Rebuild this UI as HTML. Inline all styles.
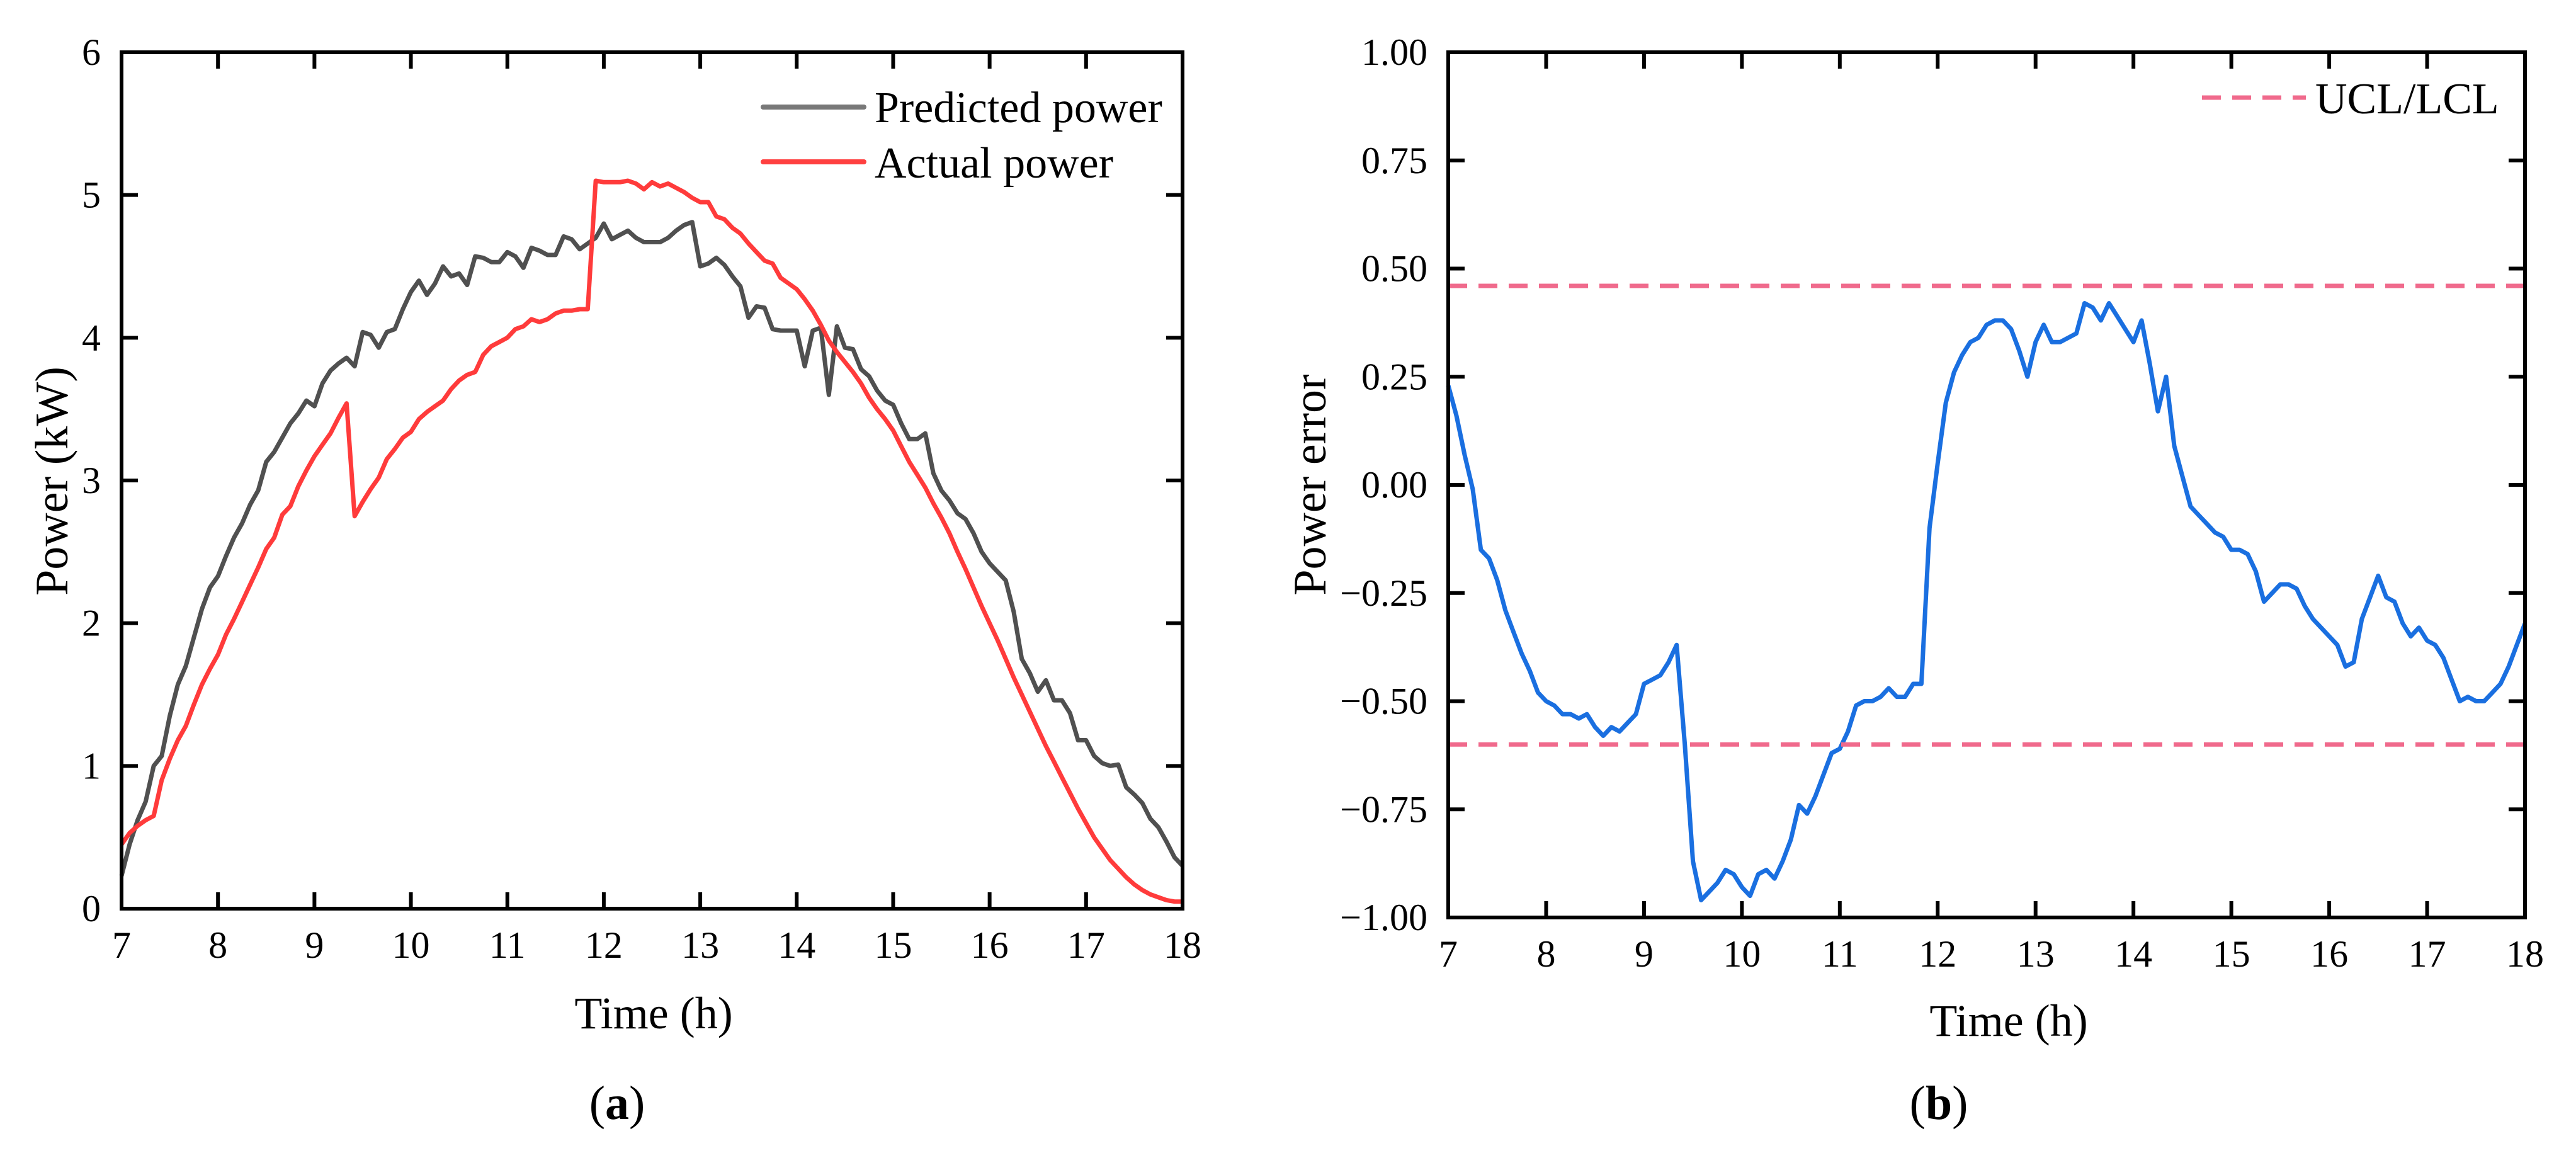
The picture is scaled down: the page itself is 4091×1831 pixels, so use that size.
<!DOCTYPE html>
<html><head><meta charset="utf-8"><style>
html,body{margin:0;padding:0;background:#fff;}
svg{display:block;font-family:"Liberation Serif",serif;}
</style></head><body>
<svg id="fig" width="4091" height="1831" viewBox="0 0 4091 1831" xmlns="http://www.w3.org/2000/svg"></svg>
<script>
// Time grid: 5-minute steps from 7 h to 18 h
const startHour = 7;
const stepHour = 1/12;
const xTicks = [7,8,9,10,11,12,13,14,15,16,17,18];
const yTicksA = [0,1,2,3,4,5,6];
const yTicksB = [-1,-0.75,-0.5,-0.25,0,0.25,0.5,0.75,1];
const yTickLabelsB = ["\u22121.00","\u22120.75","\u22120.50","\u22120.25","0.00","0.25","0.50","0.75","1.00"];
const predicted = [0.23,0.45,0.62,0.75,1.0,1.07,1.35,1.57,1.7,1.9,2.1,2.25,2.33,2.47,2.6,2.7,2.83,2.93,3.13,3.2,3.3,3.4,3.47,3.56,3.52,3.68,3.77,3.82,3.86,3.8,4.04,4.02,3.93,4.04,4.06,4.2,4.32,4.4,4.3,4.38,4.5,4.43,4.45,4.37,4.57,4.56,4.53,4.53,4.6,4.57,4.49,4.63,4.61,4.58,4.58,4.71,4.69,4.62,4.66,4.7,4.8,4.69,4.72,4.75,4.7,4.67,4.67,4.67,4.7,4.75,4.79,4.81,4.5,4.52,4.56,4.51,4.43,4.36,4.14,4.22,4.21,4.06,4.05,4.05,4.05,3.8,4.05,4.07,3.6,4.08,3.93,3.92,3.78,3.73,3.63,3.56,3.53,3.4,3.29,3.29,3.33,3.05,2.93,2.86,2.77,2.73,2.63,2.5,2.42,2.36,2.3,2.08,1.75,1.65,1.52,1.6,1.46,1.46,1.37,1.18,1.18,1.07,1.02,1.0,1.01,0.85,0.8,0.74,0.63,0.57,0.47,0.36,0.3];
const actual = [0.45,0.53,0.58,0.62,0.65,0.9,1.05,1.18,1.28,1.43,1.57,1.68,1.78,1.92,2.03,2.15,2.27,2.39,2.52,2.6,2.76,2.82,2.96,3.07,3.17,3.25,3.33,3.44,3.54,2.75,2.85,2.94,3.02,3.15,3.22,3.3,3.34,3.43,3.48,3.52,3.56,3.64,3.7,3.74,3.76,3.88,3.94,3.97,4.0,4.06,4.08,4.13,4.11,4.13,4.17,4.19,4.19,4.2,4.2,5.1,5.09,5.09,5.09,5.1,5.08,5.04,5.09,5.06,5.08,5.05,5.02,4.98,4.95,4.95,4.85,4.83,4.77,4.73,4.66,4.6,4.54,4.52,4.42,4.38,4.34,4.27,4.19,4.09,3.98,3.9,3.83,3.76,3.68,3.58,3.5,3.43,3.35,3.24,3.13,3.04,2.95,2.84,2.74,2.63,2.5,2.38,2.25,2.12,2.0,1.88,1.75,1.62,1.5,1.38,1.26,1.14,1.03,0.92,0.81,0.7,0.6,0.5,0.42,0.34,0.28,0.22,0.17,0.13,0.1,0.08,0.06,0.05,0.05];
const errorVals = [0.23,0.16,0.07,-0.01,-0.15,-0.17,-0.22,-0.29,-0.34,-0.39,-0.43,-0.48,-0.5,-0.51,-0.53,-0.53,-0.54,-0.53,-0.56,-0.58,-0.56,-0.57,-0.55,-0.53,-0.46,-0.45,-0.44,-0.41,-0.37,-0.6,-0.87,-0.96,-0.94,-0.92,-0.89,-0.9,-0.93,-0.95,-0.9,-0.89,-0.91,-0.87,-0.82,-0.74,-0.76,-0.72,-0.67,-0.62,-0.61,-0.57,-0.51,-0.5,-0.5,-0.49,-0.47,-0.49,-0.49,-0.46,-0.46,-0.1,0.05,0.19,0.26,0.3,0.33,0.34,0.37,0.38,0.38,0.36,0.31,0.25,0.33,0.37,0.33,0.33,0.34,0.35,0.42,0.41,0.38,0.42,0.39,0.36,0.33,0.38,0.28,0.17,0.25,0.09,0.02,-0.05,-0.07,-0.09,-0.11,-0.12,-0.15,-0.15,-0.16,-0.2,-0.27,-0.25,-0.23,-0.23,-0.24,-0.28,-0.31,-0.33,-0.35,-0.37,-0.42,-0.41,-0.31,-0.26,-0.21,-0.26,-0.27,-0.32,-0.35,-0.33,-0.36,-0.37,-0.4,-0.45,-0.5,-0.49,-0.5,-0.5,-0.48,-0.46,-0.42,-0.37,-0.32];
const ucl = 0.46;
const lcl = -0.6;

const NS = "http://www.w3.org/2000/svg";
const svg = document.getElementById('fig');
function mk(tag, attrs, parent){
  const e = document.createElementNS(NS, tag);
  for (const k in attrs) e.setAttribute(k, attrs[k]);
  (parent||svg).appendChild(e);
  return e;
}
function panel(p){
  const g = mk('g', {});
  
  
  const xs = v => p.x0 + (v - 7) / 11 * (p.x1 - p.x0);
  const ys = v => p.y1 - (v - p.ymin) / (p.ymax - p.ymin) * (p.y1 - p.y0);
  p.series.forEach(s => {
    const d = s.vals.map((v,i) => (i?'L':'M') + xs(startHour + i*stepHour).toFixed(1) + ' ' + ys(v).toFixed(1)).join(' ');
    const path = mk('path', {d:d, fill:'none', stroke:s.color, 'stroke-width':7, 'stroke-linejoin':'round'}, g);
    
    
  });
  (p.hlines||[]).forEach(h => {
    const l = mk('line', {x1:p.x0, x2:p.x1, y1:ys(h.v), y2:ys(h.v), stroke:'#f06a8c', 'stroke-width':7, 'stroke-dasharray':'30 18'}, g);
    
    
  });
  const fr = mk('rect', {x:p.x0, y:p.y0, width:p.x1-p.x0, height:p.y1-p.y0, fill:'none', stroke:'#000', 'stroke-width':6}, g);
  
  
  xTicks.forEach(t => {
    const x = xs(t);
    mk('line', {x1:x, x2:x, y1:p.y1, y2:p.y1-26, stroke:'#000', 'stroke-width':6}, g);
    mk('line', {x1:x, x2:x, y1:p.y0, y2:p.y0+26, stroke:'#000', 'stroke-width':6}, g);
    const tx = mk('text', {x:x, y:p.y1+78, 'font-size':60, 'text-anchor':'middle'}, g);
    tx.textContent = t;
    
    
  });
  p.yTicks.forEach((t,i) => {
    const y = ys(t);
    mk('line', {x1:p.x0, x2:p.x0+26, y1:y, y2:y, stroke:'#000', 'stroke-width':6}, g);
    mk('line', {x1:p.x1, x2:p.x1-26, y1:y, y2:y, stroke:'#000', 'stroke-width':6}, g);
    const ty = mk('text', {x:p.x0-33, y:y+20, 'font-size':60, 'text-anchor':'end'}, g);
    ty.textContent = p.yLabels[i];
    
    
  });
  const xt = mk('text', {x:p.xtx, y:p.xty, 'font-size':72, 'text-anchor':'middle'}, g);
  xt.textContent = 'Time (h)';
  
  
  const yt = mk('text', {x:0, y:0, 'font-size':74, 'text-anchor':'middle', transform:'translate('+p.ytx+','+p.yty+') rotate(-90)'}, g);
  yt.textContent = p.ytitle;
  
  
  const cap = mk('text', {x:p.capx, y:1777, 'font-size':76, 'text-anchor':'middle'}, g);
  cap.innerHTML = '(<tspan font-weight="bold">' + p.cap + '</tspan>)';
  
  
  return g;
}
panel({name:'panel-a', x0:193, x1:1878, y0:83, y1:1443, ymin:0, ymax:6,
  yTicks:yTicksA, yLabels:yTicksA.map(String),
  series:[{name:'predicted-power-line', vals:predicted, color:'#505050'},{name:'actual-power-line', vals:actual, color:'#ff3b3b'}],
  xtx:1038, xty:1633, ytx:107, yty:764, ytitle:'Power (kW)', capx:980, cap:'a'});
panel({name:'panel-b', x0:2300, x1:4010, y0:83, y1:1457, ymin:-1, ymax:1,
  yTicks:yTicksB, yLabels:yTickLabelsB,
  series:[{name:'power-error-line', vals:errorVals, color:'#1a6fe0'}],
  hlines:[{name:'ucl-line', v:ucl},{name:'lcl-line', v:lcl}],
  xtx:3190, xty:1645, ytx:2105, yty:770, ytitle:'Power error', capx:3079, cap:'b'});

const lg = mk('g', {});


const l1 = mk('line', {x1:1212, x2:1372, y1:170, y2:170, stroke:'#787878', 'stroke-width':8, 'stroke-linecap':'round'}, lg);


const t1 = mk('text', {x:1389, y:194, 'font-size':70}, lg);
t1.textContent = 'Predicted power';


const l2 = mk('line', {x1:1212, x2:1372, y1:257, y2:257, stroke:'#ff4040', 'stroke-width':8, 'stroke-linecap':'round'}, lg);


const t2 = mk('text', {x:1389, y:282, 'font-size':70}, lg);
t2.textContent = 'Actual power';



const lb = mk('g', {});


const l3 = mk('line', {x1:3497, x2:3662, y1:155, y2:155, stroke:'#f06a8c', 'stroke-width':7, 'stroke-dasharray':'30 18'}, lb);


const t3 = mk('text', {x:3677, y:180, 'font-size':70}, lb);
t3.textContent = 'UCL/LCL';


</script>
</body></html>
